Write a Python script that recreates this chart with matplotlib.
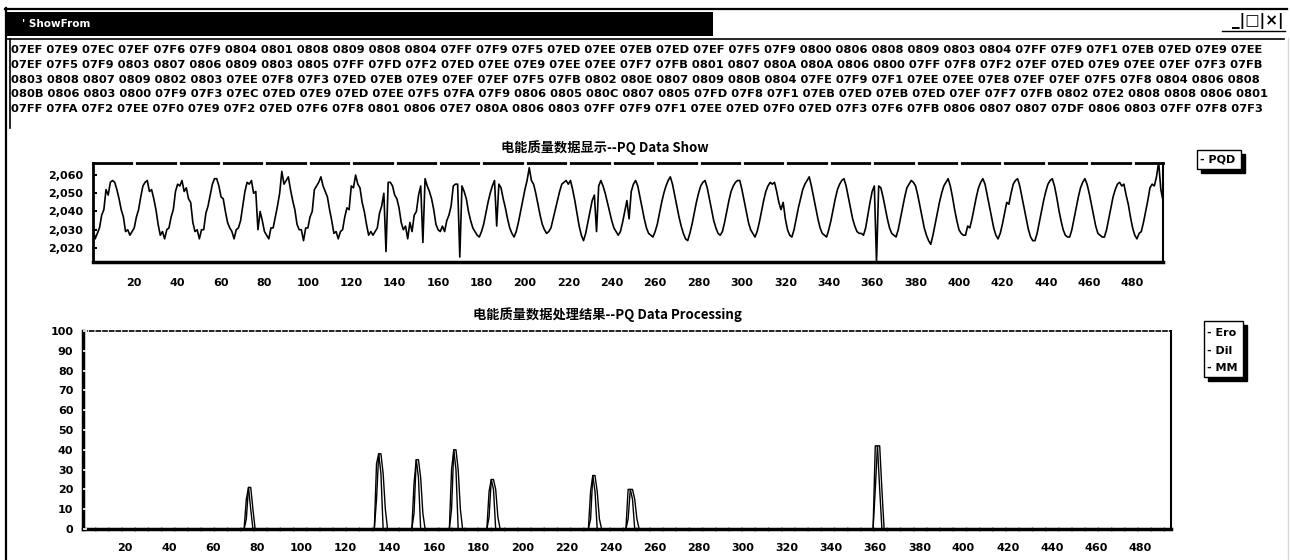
import numpy as np
import matplotlib.pyplot as plt
from matplotlib.patches import Rectangle
from matplotlib.lines import Line2D
from matplotlib.ticker import FuncFormatter

plt.rcParams['font.family'] = ['DejaVu Sans', 'Noto Sans CJK SC']

# raw PQ samples as received (hex words, 35 per line)
hex_rows = [
    "07EF 07E9 07EC 07EF 07F6 07F9 0804 0801 0808 0809 0808 0804 07FF 07F9 07F5 07ED 07EE 07EB 07ED 07EF 07F5 07F9 0800 0806 0808 0809 0803 0804 07FF 07F9 07F1 07EB 07ED 07E9 07EE",
    "07EF 07F5 07F9 0803 0807 0806 0809 0803 0805 07FF 07FD 07F2 07ED 07EE 07E9 07EE 07EE 07F7 07FB 0801 0807 080A 080A 0806 0800 07FF 07F8 07F2 07EF 07ED 07E9 07EE 07EF 07F3 07FB",
    "0803 0808 0807 0809 0802 0803 07EE 07F8 07F3 07ED 07EB 07E9 07EF 07EF 07F5 07FB 0802 080E 0807 0809 080B 0804 07FE 07F9 07F1 07EE 07EE 07E8 07EF 07EF 07F5 07F8 0804 0806 0808",
    "080B 0806 0803 0800 07F9 07F3 07EC 07ED 07E9 07ED 07EE 07F5 07FA 07F9 0806 0805 080C 0807 0805 07FD 07F8 07F1 07EB 07ED 07EB 07ED 07EF 07F7 07FB 0802 07E2 0808 0808 0806 0801",
    "07FF 07FA 07F2 07EE 07F0 07E9 07F2 07ED 07F6 07F8 0801 0806 07E7 080A 0806 0803 07FF 07F9 07F1 07EE 07ED 07F0 07ED 07F3 07F6 07FB 0806 0807 0807 07DF 0806 0803 07FF 07F8 07F3",
]

# remaining samples 176..494
pqd_tail = [
    2031, 2029, 2027, 2026, 2029, 2033, 2039, 2045, 2050, 2054, 2057,
    2032, 2055, 2053, 2047, 2042, 2036, 2031, 2028, 2026,
    2029, 2034, 2040, 2046, 2052, 2057, 2064, 2057, 2055, 2050, 2044, 2038, 2033, 2030, 2028, 2029,
    2031, 2036, 2041, 2046, 2051, 2055, 2056, 2057, 2055, 2057, 2052, 2046, 2039, 2032, 2027, 2024,
    2028, 2034, 2040, 2046, 2049, 2029, 2054, 2057, 2054, 2050, 2045, 2040, 2035, 2031, 2029, 2027,
    2029, 2034, 2040, 2046, 2036, 2051, 2055, 2057, 2054, 2048, 2042, 2036, 2031, 2028, 2027, 2026,
    2029, 2033, 2039, 2045, 2050, 2054, 2057, 2059, 2055, 2049, 2043, 2037, 2032, 2028, 2025, 2024,
    2028, 2033, 2039, 2045, 2050, 2054, 2056, 2057, 2053, 2047, 2041, 2035, 2031, 2028, 2027,
    2029, 2034, 2040, 2046, 2051, 2054, 2056, 2057, 2057, 2052, 2046, 2040, 2034, 2030, 2028, 2026,
    2029, 2034, 2040, 2046, 2051, 2054, 2056, 2055, 2056, 2051, 2045, 2041, 2045, 2036, 2030, 2027, 2026,
    2030, 2036, 2042, 2047, 2052, 2055, 2057, 2059, 2054, 2048, 2042, 2036, 2031, 2028, 2027, 2026,
    2030, 2035, 2041, 2047, 2052, 2055, 2057, 2058, 2054, 2048, 2042, 2036, 2032, 2029, 2028, 2028, 2027,
    2031, 2038, 2045, 2051, 2054, 2012, 2054, 2053, 2048, 2042, 2036, 2031, 2028, 2027, 2026,
    2030, 2036, 2042, 2048, 2053, 2055, 2057, 2056, 2054, 2049, 2043, 2037, 2031, 2027, 2024, 2022,
    2027, 2033, 2039, 2045, 2050, 2054, 2056, 2058, 2054, 2048, 2041, 2035, 2030, 2028, 2027, 2027,
    2032, 2031, 2036, 2042, 2048, 2053, 2056, 2058, 2055, 2049, 2043, 2037, 2031, 2027, 2025,
    2028, 2033, 2039, 2045, 2044, 2050, 2055, 2057, 2058, 2054, 2048, 2042, 2036, 2030, 2026, 2024, 2024,
    2028, 2034, 2040, 2046, 2051, 2055, 2057, 2058, 2054, 2048, 2041, 2035, 2030, 2027, 2026, 2026,
    2030, 2036, 2042, 2048, 2053, 2056, 2058, 2055, 2050, 2044, 2038, 2032, 2028, 2027, 2026, 2026,
    2030, 2036, 2042, 2048, 2052, 2055, 2056, 2054, 2055, 2049, 2044, 2037, 2031, 2027, 2025,
    2028, 2029, 2034, 2040, 2046, 2053, 2055, 2054, 2059, 2067, 2052, 2046,
]

# processing results (sample index -> value), everything else is 0
ero_idx = [75, 76, 77, 78,
           134, 135, 136, 137, 138,
           151, 152, 153, 154, 155,
           168, 169, 170, 171, 172,
           185, 186, 187, 188, 189,
           231, 232, 233, 234, 235,
           248, 249, 250, 251, 252,
           360, 361, 362, 363]
ero_val = [5, 21, 21, 10,
           15, 38, 38, 28, 10,
           8, 35, 35, 26, 8,
           10, 40, 40, 30, 10,
           6, 25, 25, 20, 6,
           5, 27, 27, 19, 5,
           5, 20, 20, 15, 5,
           20, 42, 42, 20]
dil_idx = [75, 76, 77,
           134, 135, 136,
           151, 152, 153,
           168, 169, 170,
           185, 186, 187,
           231, 232, 233,
           248, 249, 250,
           360, 361, 362]
dil_val = [15, 21, 10,
           33, 38, 28,
           23, 35, 26,
           30, 40, 30,
           19, 25, 20,
           19, 27, 19,
           20, 20, 15,
           42, 42, 20]

pqd_ticks = [2020, 2030, 2040, 2050, 2060]
x_ticks = list(range(20, 481, 20))
res_ticks = list(range(0, 101, 10))

pqd = [int(h, 16) for row in hex_rows for h in row.split()] + pqd_tail
n = len(pqd)
x = np.arange(1, n + 1)
ero = np.zeros(n)
ero[np.array(ero_idx) - 1] = ero_val
dil = np.zeros(n)
dil[np.array(dil_idx) - 1] = dil_val
mm = np.zeros(n)

W, H = 1290, 560
fig = plt.figure(figsize=(W / 100, H / 100), dpi=100)


def fx(px):
    return px / W


def fy(py):
    return 1 - py / H


def hline(x0, x1, y, **kw):
    fig.add_artist(Line2D([fx(x0), fx(x1)], [fy(y), fy(y)], **kw))


def vline(xp, y0, y1, **kw):
    fig.add_artist(Line2D([fx(xp), fx(xp)], [fy(y0), fy(y1)], **kw))


# window frame
hline(5, 1287, 8.5, color="black", lw=1.6)
vline(5.5, 8, 560, color="black", lw=1.6)
vline(1287.5, 38, 560, color="#d8d8d8", lw=1)
fig.add_artist(Rectangle((fx(6), fy(36)), fx(713) - fx(6), fy(12) - fy(36),
                         facecolor="black", edgecolor="none"))
fig.text(fx(22), fy(24), "' ShowFrom", color="white", fontsize=7.5,
         fontweight="bold", va="center")
fig.text(fx(1284), fy(21), "_|□|×|", fontsize=11, fontweight="bold",
         ha="right", va="center")
hline(1222, 1285, 30.5, color="black", lw=1)
hline(6, 1284, 38.5, color="black", lw=1.2)
vline(9.5, 39, 128, color="black", lw=1.2)

# hex dump of the received words
for i, row in enumerate(hex_rows):
    fig.text(fx(11), fy(50 + i * 14.8), row, fontsize=8.25, fontweight="bold",
             va="center")

cjk = ["Noto Sans CJK SC", "DejaVu Sans"]

# ---- PQ data plot ----
ax1 = fig.add_axes([fx(93), fy(262), fx(1163) - fx(93), (262 - 163) / H])
ax1.plot(x, pqd, color="black", lw=1.2)
ax1.set_xlim(1, 494)
ax1.set_ylim(2012.3, 2066.6)
ax1.set_yticks(pqd_ticks)
ax1.yaxis.set_major_formatter(FuncFormatter(lambda v, p: f"{int(v):,}"))
ax1.set_xticks(x_ticks)
ax1.tick_params(axis="x", bottom=False, top=True, direction="inout", length=5,
                width=2, color="white", pad=9, labelsize=8)
ax1.tick_params(axis="y", direction="in", length=3, width=1.5, pad=7,
                labelsize=8)
ax1.xaxis.set_zorder(3)
for lab in ax1.get_xticklabels() + ax1.get_yticklabels():
    lab.set_fontweight("bold")
ax1.spines["top"].set_linewidth(2)
ax1.spines["left"].set_linewidth(2)
ax1.spines["bottom"].set_linewidth(2.5)
ax1.spines["right"].set_linewidth(1.5)
fig.text(fx(605), fy(148), "电能质量数据显示--PQ Data Show", family=cjk,
         fontsize=9.5, fontweight="bold", ha="center", va="center")

# legend box with drop shadow
fig.add_artist(Rectangle((fx(1201), fy(173)), fx(44), 19 / H,
                         facecolor="black", edgecolor="black"))
fig.add_artist(Rectangle((fx(1197), fy(169)), fx(44), 19 / H,
                         facecolor="white", edgecolor="black", lw=1))
fig.text(fx(1200), fy(159.5), "- PQD", fontsize=8, fontweight="bold",
         va="center")

# ---- processing result plot ----
ax2 = fig.add_axes([fx(83), fy(529), fx(1171) - fx(83), (529 - 331) / H])
for series in (mm, dil, ero):
    ax2.plot(x, series, color="black", lw=1.0)
ax2.set_xlim(1, 494)
ax2.set_ylim(0, 100)
ax2.set_yticks(res_ticks)
ax2.set_xticks(x_ticks)
ax2.tick_params(axis="x", length=0, pad=10, labelsize=8)
ax2.tick_params(axis="y", direction="in", length=3, width=1.2, color="white",
                pad=7, labelsize=8)
ax2.yaxis.set_zorder(3)
for lab in ax2.get_xticklabels() + ax2.get_yticklabels():
    lab.set_fontweight("bold")
ax2.spines["top"].set_linewidth(1.2)
ax2.spines["top"].set_linestyle((0, (2.4, 1.6)))
ax2.spines["left"].set_linewidth(2.5)
ax2.spines["bottom"].set_linewidth(2.5)
ax2.spines["bottom"].set_linestyle((0, (3.2, 0.6)))
ax2.spines["right"].set_linewidth(1.5)
fig.text(fx(607), fy(315), "电能质量数据处理结果--PQ Data Processing", family=cjk,
         fontsize=9.5, fontweight="bold", ha="center", va="center")

fig.add_artist(Rectangle((fx(1208), fy(381)), fx(39), 56 / H,
                         facecolor="black", edgecolor="black"))
fig.add_artist(Rectangle((fx(1204), fy(377)), fx(39), 56 / H,
                         facecolor="white", edgecolor="black", lw=1))
for i, name in enumerate(["Ero", "Dil", "MM"]):
    fig.text(fx(1207), fy(333 + i * 17.5), f"- {name}", fontsize=8,
             fontweight="bold", va="center")

fig.savefig("out.png", dpi=100)
